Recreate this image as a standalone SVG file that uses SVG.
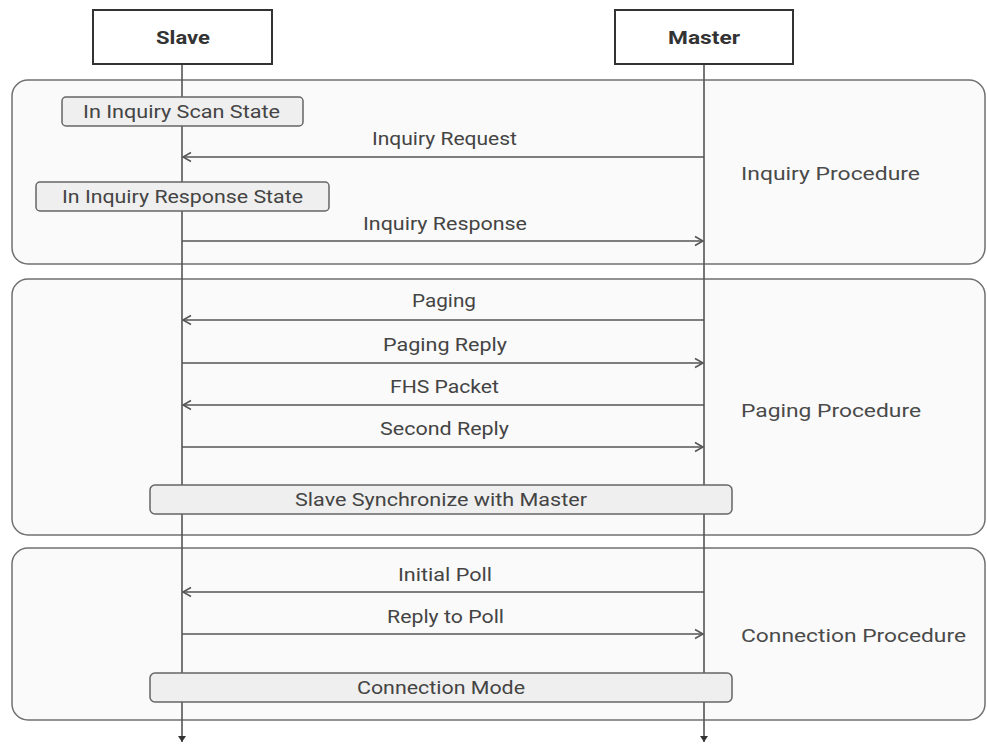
<svg xmlns="http://www.w3.org/2000/svg" width="987" height="749" viewBox="0 0 987 749">
<style>
  .bg{fill:#ffffff}
  .grp{fill:#fafafa;stroke:#707070;stroke-width:1.5}
  .part{fill:#ffffff;stroke:#333;stroke-width:2}
  .state{fill:#efefef;stroke:#666;stroke-width:1.5}
  .life{stroke:#555;stroke-width:1.6;fill:none}
  .msg{stroke:#555;stroke-width:1.6;fill:none}
  text{font-family:Roboto,"Liberation Sans",sans-serif;fill:#444;font-size:18px}
  .lbl{font-size:19px;fill:#4a4a4a}
  .bold{font-weight:bold;fill:#333;font-size:19px}
  .mid{text-anchor:middle}
</style>
<defs>
  <marker id="open" markerWidth="12" markerHeight="12" refX="10" refY="6" orient="auto" markerUnits="userSpaceOnUse">
    <path d="M2,1.5 L10,6 L2,10.5" fill="none" stroke="#555" stroke-width="1.5"/>
  </marker>
  <marker id="tri" markerWidth="10" markerHeight="10" refX="5" refY="8" orient="0" markerUnits="userSpaceOnUse">
    <path d="M1,2 L9,2 L5,8 Z" fill="#333"/>
  </marker>
</defs>
<rect class="bg" x="0" y="0" width="987" height="749"/>

<g id="group-inquiry">
  <rect class="grp" x="12" y="80" width="973" height="184" rx="16"/>
  <text class="lbl" x="741" y="180" textLength="179" lengthAdjust="spacingAndGlyphs">Inquiry Procedure</text>
</g>
<g id="group-paging">
  <rect class="grp" x="12" y="279" width="973" height="256" rx="16"/>
  <text class="lbl" x="741" y="417" textLength="180" lengthAdjust="spacingAndGlyphs">Paging Procedure</text>
</g>
<g id="group-connection">
  <rect class="grp" x="12" y="548" width="973" height="172" rx="16"/>
  <text class="lbl" x="741" y="642" textLength="225" lengthAdjust="spacingAndGlyphs">Connection Procedure</text>
</g>

<g id="lifelines">
  <line class="life" x1="182" y1="64" x2="182" y2="742" marker-end="url(#tri)"/>
  <line class="life" x1="704" y1="64" x2="704" y2="742" marker-end="url(#tri)"/>
</g>

<g id="slave">
  <rect class="part" x="93" y="10" width="179" height="54"/>
  <text class="bold" x="156" y="44" textLength="54" lengthAdjust="spacingAndGlyphs">Slave</text>
</g>
<g id="master">
  <rect class="part" x="615" y="10" width="178" height="54"/>
  <text class="bold" x="668" y="44" textLength="72" lengthAdjust="spacingAndGlyphs">Master</text>
</g>

<g id="state-scan">
  <rect class="state" x="62" y="97" width="241" height="29" rx="4"/>
  <text x="83" y="118" textLength="197" lengthAdjust="spacingAndGlyphs">In Inquiry Scan State</text>
</g>
<g id="state-response">
  <rect class="state" x="36" y="182" width="293" height="29" rx="4"/>
  <text x="62" y="203" textLength="241" lengthAdjust="spacingAndGlyphs">In Inquiry Response State</text>
</g>
<g id="state-sync">
  <rect class="state" x="150" y="485" width="582" height="29" rx="5"/>
  <text x="295" y="506" textLength="292" lengthAdjust="spacingAndGlyphs">Slave Synchronize with Master</text>
</g>
<g id="state-connection">
  <rect class="state" x="150" y="673" width="582" height="29" rx="5"/>
  <text x="357" y="694" textLength="168" lengthAdjust="spacingAndGlyphs">Connection Mode</text>
</g>

<g id="connectors">
  <line class="msg" x1="704" y1="157" x2="183" y2="157" marker-end="url(#open)"/>
  <text x="372" y="145" textLength="145" lengthAdjust="spacingAndGlyphs">Inquiry Request</text>
  <line class="msg" x1="182" y1="241" x2="703" y2="241" marker-end="url(#open)"/>
  <text x="363" y="230" textLength="164" lengthAdjust="spacingAndGlyphs">Inquiry Response</text>

  <line class="msg" x1="704" y1="320" x2="183" y2="320" marker-end="url(#open)"/>
  <text x="412" y="307" textLength="64" lengthAdjust="spacingAndGlyphs">Paging</text>
  <line class="msg" x1="182" y1="363" x2="703" y2="363" marker-end="url(#open)"/>
  <text x="383" y="351" textLength="124" lengthAdjust="spacingAndGlyphs">Paging Reply</text>
  <line class="msg" x1="704" y1="405" x2="183" y2="405" marker-end="url(#open)"/>
  <text x="390" y="393" textLength="109" lengthAdjust="spacingAndGlyphs">FHS Packet</text>
  <line class="msg" x1="182" y1="447" x2="703" y2="447" marker-end="url(#open)"/>
  <text x="380" y="435" textLength="129" lengthAdjust="spacingAndGlyphs">Second Reply</text>

  <line class="msg" x1="704" y1="592" x2="183" y2="592" marker-end="url(#open)"/>
  <text x="398" y="581" textLength="94" lengthAdjust="spacingAndGlyphs">Initial Poll</text>
  <line class="msg" x1="182" y1="634" x2="703" y2="634" marker-end="url(#open)"/>
  <text x="387" y="623" textLength="117" lengthAdjust="spacingAndGlyphs">Reply to Poll</text>
</g>
</svg>
